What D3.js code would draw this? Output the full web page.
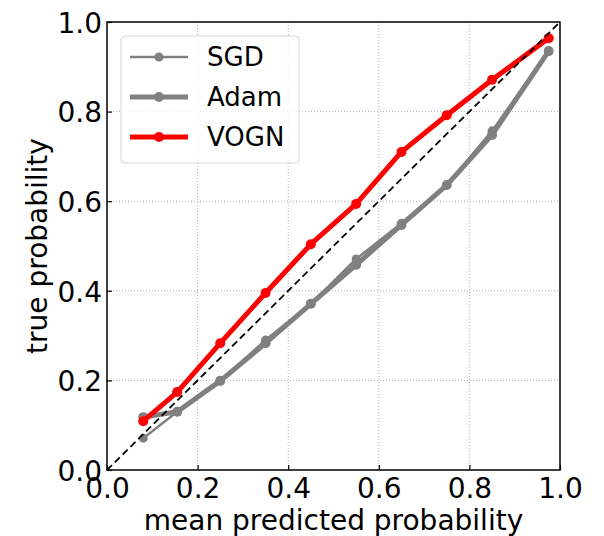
<!DOCTYPE html>
<head>
<style>
  body { margin: 0; background: #fff; }
  text { font-family: "DejaVu Sans", sans-serif; }
</style>
</head>
<body>
<svg width="604" height="536"></svg>
<script src="https://d3js.org/d3.v7.min.js"></script>
<script>

// calibration data
var binCenters = [0.08, 0.155, 0.25, 0.35, 0.45, 0.55, 0.65, 0.75, 0.85, 0.975];
var sgdTrue  = [0.071, 0.13, 0.199, 0.29, 0.371, 0.471, 0.551, 0.636, 0.757, 0.935];
var adamTrue = [0.118, 0.13, 0.199, 0.283, 0.371, 0.458, 0.547, 0.636, 0.748, 0.935];
var vognTrue = [0.109, 0.174, 0.283, 0.395, 0.504, 0.594, 0.71, 0.792, 0.871, 0.964];
var tickValues = [0, 0.2, 0.4, 0.6, 0.8, 1.0];

var series = [
  {name: "SGD",  values: sgdTrue,  color: "#808080", width: 2.5, r: 4.5},
  {name: "Adam", values: adamTrue, color: "#808080", width: 5,   r: 5},
  {name: "VOGN", values: vognTrue, color: "#ff0000", width: 5,   r: 5}
];

var svg = d3.select("svg"),
    margin = {top: 22, right: 44, bottom: 66, left: 107},
    width = 604 - margin.left - margin.right,
    height = 536 - margin.top - margin.bottom,
    g = svg.append("g").attr("transform", "translate(" + margin.left + "," + margin.top + ")");

var x = d3.scaleLinear().domain([0, 1]).range([0, width]);
var y = d3.scaleLinear().domain([0, 1]).range([height, 0]);

// dotted grid
g.append("g").selectAll("line")
    .data(tickValues.slice(1, -1))
  .enter().append("line")
    .attr("x1", d => x(d)).attr("x2", d => x(d))
    .attr("y1", 0).attr("y2", height)
    .attr("stroke", "#b0b0b0").attr("stroke-width", 1).attr("stroke-dasharray", "1,2");
g.append("g").selectAll("line")
    .data(tickValues.slice(1, -1))
  .enter().append("line")
    .attr("y1", d => y(d)).attr("y2", d => y(d))
    .attr("x1", 0).attr("x2", width)
    .attr("stroke", "#b0b0b0").attr("stroke-width", 1).attr("stroke-dasharray", "1,2");

// axes, ticks pointing inward
var xAxis = g.append("g")
    .attr("transform", "translate(0," + height + ")")
    .call(d3.axisBottom(x).tickValues(tickValues).tickFormat(d3.format(".1f")).tickSizeInner(-5).tickSizeOuter(0));
var yAxis = g.append("g")
    .call(d3.axisLeft(y).tickValues(tickValues).tickFormat(d3.format(".1f")).tickSizeInner(-5).tickSizeOuter(0));
[xAxis, yAxis].forEach(function(a) {
  a.select(".domain").remove();
  a.selectAll("text").style("font-size", "28px").attr("fill", "#000");
  a.selectAll("line").attr("stroke", "#000").attr("stroke-width", 1.2);
});
xAxis.selectAll("text").attr("y", 28).attr("dy", 0);
yAxis.selectAll("text").attr("x", -5).attr("dy", "0.37em");

var line = d3.line()
    .x(function(d, i) { return x(binCenters[i]); })
    .y(function(d) { return y(d); });

series.forEach(function(s) {
  g.append("path")
      .datum(s.values)
      .attr("fill", "none")
      .attr("stroke", s.color)
      .attr("stroke-width", s.width)
      .attr("stroke-linejoin", "round")
      .attr("d", line);
  g.selectAll(null)
      .data(s.values)
    .enter().append("circle")
      .attr("cx", function(d, i) { return x(binCenters[i]); })
      .attr("cy", function(d) { return y(d); })
      .attr("r", s.r)
      .attr("fill", s.color);
});

// perfect calibration diagonal
g.append("line")
    .attr("x1", x(0)).attr("y1", y(0))
    .attr("x2", x(1)).attr("y2", y(1))
    .attr("stroke", "#000").attr("stroke-width", 1.8).attr("stroke-dasharray", "7,4");

// frame
g.append("rect")
    .attr("width", width).attr("height", height)
    .attr("fill", "none").attr("stroke", "#000").attr("stroke-width", 1.5);

// legend
var legend = g.append("g").attr("transform", "translate(14,14)");
legend.append("rect")
    .attr("width", 178).attr("height", 127).attr("rx", 4)
    .attr("fill", "#fff").attr("fill-opacity", 0.8)
    .attr("stroke", "#d6d6d6").attr("stroke-width", 1);
series.forEach(function(s, i) {
  var ly = 21 + i * 40;
  legend.append("line")
      .attr("x1", 9).attr("x2", 67).attr("y1", ly).attr("y2", ly)
      .attr("stroke", s.color).attr("stroke-width", s.width);
  legend.append("circle").attr("cx", 38).attr("cy", ly).attr("r", s.r).attr("fill", s.color);
  legend.append("text")
      .attr("x", 86).attr("y", ly).attr("dy", "0.36em")
      .style("font-size", "26px")
      .text(s.name);
});

// axis labels
svg.append("text")
    .attr("x", margin.left + width / 2).attr("y", 530)
    .attr("text-anchor", "middle")
    .style("font-size", "28px")
    .text("mean predicted probability");
svg.append("text")
    .attr("transform", "translate(47," + (margin.top + height / 2) + ") rotate(-90)")
    .attr("text-anchor", "middle")
    .style("font-size", "28px")
    .text("true probability");

</script>
</body>
